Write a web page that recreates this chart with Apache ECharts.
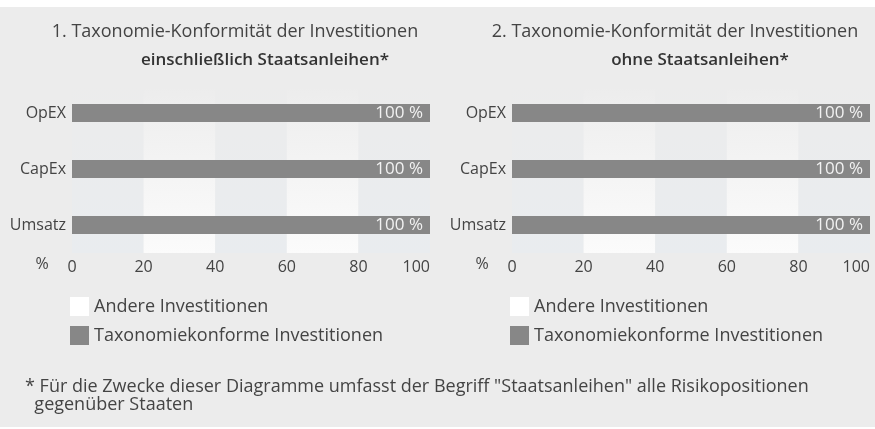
<!DOCTYPE html>
<html>
<head>
<meta charset="utf-8">
<script src="https://cdn.jsdelivr.net/npm/echarts@6/dist/echarts.min.js"></script>
<style>
html,body{margin:0;padding:0;background:#fff;}
#c{width:875px;height:429px;}
</style>
</head>
<body>
<div id="c"></div>
<script>
const categories = ['OpEX', 'CapEx', 'Umsatz'];
const panel1Taxo = [100, 100, 100];
const panel1Other = [0, 0, 0];
const panel2Taxo = [100, 100, 100];
const panel2Other = [0, 0, 0];
const xTicks = [0, 20, 40, 60, 80, 100];
const seriesNames = ['Andere Investitionen', 'Taxonomiekonforme Investitionen'];
const titles1 = ['1. Taxonomie-Konformität der Investitionen', 'einschließlich Staatsanleihen*'];
const titles2 = ['2. Taxonomie-Konformität der Investitionen', 'ohne Staatsanleihen*'];
const footnote = '* Für die Zwecke dieser Diagramme umfasst der Begriff "Staatsanleihen" alle Risikopositionen\n  gegenüber Staaten';

const FONT = '"Open Sans", sans-serif';
const TXT = '#444';
const BG = '#ececec';

const chart = echarts.init(document.getElementById('c'), null, {renderer: 'canvas'});

function band(c) {
  return new echarts.graphic.LinearGradient(0, 0, 0, 1, [
    {offset: 0, color: echarts.color.modifyAlpha(c, 0)},
    {offset: 0.25, color: echarts.color.modifyAlpha(c, 0.3)},
    {offset: 1, color: c}
  ]);
}

function xAxis(idx) {
  return {
    gridIndex: idx, type: 'value', min: 0, max: 100, interval: 20,
    axisLine: {show: false}, axisTick: {show: false},
    splitLine: {show: false},
    splitArea: {show: true, areaStyle: {color: [band('#e9ecef'), band('#fbfbfb')]}},
    axisLabel: {fontFamily: FONT, fontSize: 16, color: TXT, margin: 6, alignMaxLabel: 'right'}
  };
}
function yAxis(idx) {
  return {
    gridIndex: idx, type: 'category', data: categories, inverse: true,
    axisLine: {show: false}, axisTick: {show: false},
    axisLabel: {fontFamily: FONT, fontSize: 16, color: TXT, margin: 6}
  };
}
function series(idx, other, taxo) {
  return [
    {name: seriesNames[1], type: 'bar', stack: 's' + idx, xAxisIndex: idx, yAxisIndex: idx,
     data: taxo, barWidth: 18, itemStyle: {color: '#878787'},
     label: {show: true, position: 'insideRight', distance: 7, formatter: '{c} %',
             fontFamily: FONT, fontSize: 17, color: '#f2f2f2'}},
    {name: seriesNames[0], type: 'bar', stack: 's' + idx, xAxisIndex: idx, yAxisIndex: idx,
     data: other, barWidth: 18, itemStyle: {color: '#ffffff'}}
  ];
}
function legend(left) {
  return {
    data: seriesNames, orient: 'vertical', left: left, top: 297,
    itemWidth: 19, itemHeight: 19, itemGap: 10, icon: 'rect',
    selectedMode: false,
    textStyle: {fontFamily: FONT, fontSize: 18, color: TXT, padding: [0, 0, 0, 0]},
    padding: 0
  };
}
function titleTexts(cx1, cx2, t) {
  return [
    {type: 'text', x: cx1, y: 32, style: {text: t[0], fontFamily: FONT, fontSize: 18, fill: TXT, align: 'center', verticalAlign: 'middle'}},
    {type: 'text', x: cx2, y: 60, style: {text: t[1], fontFamily: FONT, fontSize: 17, fontWeight: 600, fill: '#333', align: 'center', verticalAlign: 'middle'}}
  ];
}

chart.setOption({
  animation: false,
  backgroundColor: '#ffffff',
  grid: [
    {left: 72, width: 358, top: 85, height: 168},
    {left: 512, width: 358, top: 85, height: 168}
  ],
  xAxis: [xAxis(0), xAxis(1)],
  yAxis: [yAxis(0), yAxis(1)],
  legend: [legend(70), legend(510)],
  series: series(0, panel1Other, panel1Taxo).concat(series(1, panel2Other, panel2Taxo)),
  graphic: [
    {type: 'rect', z: -10, silent: true, shape: {x: 0, y: 7, width: 875, height: 420}, style: {fill: BG}}
  ].concat(titleTexts(235, 265, titles1))
   .concat(titleTexts(675, 700, titles2))
   .concat([
    {type: 'text', x: 42, y: 264, style: {text: '%', fontFamily: FONT, fontSize: 16, fill: TXT, align: 'center', verticalAlign: 'middle'}},
    {type: 'text', x: 482, y: 264, style: {text: '%', fontFamily: FONT, fontSize: 16, fill: TXT, align: 'center', verticalAlign: 'middle'}},
    {type: 'text', x: 25, y: 378, style: {text: footnote, fontFamily: FONT, fontSize: 18, lineHeight: 18, fill: TXT, align: 'left', verticalAlign: 'top'}}
  ])
});
</script>
</body>
</html>
